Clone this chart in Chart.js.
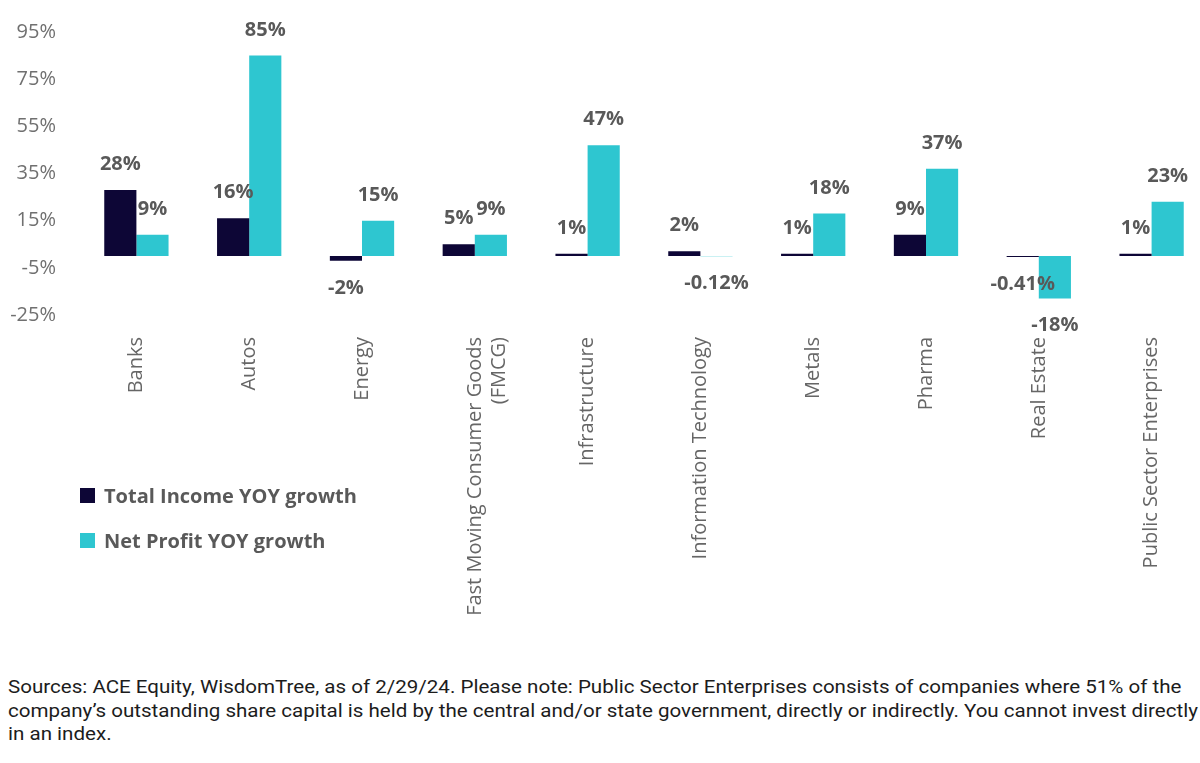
<!DOCTYPE html>
<html>
<head>
<meta charset="utf-8">
<script src="https://cdn.jsdelivr.net/npm/chart.js@4.4.1/dist/chart.umd.min.js"></script>
<style>
  html, body { margin: 0; padding: 0; background: #fff; overflow: hidden; }
  #wrap { position: relative; width: 1200px; height: 763px; overflow: hidden; background: #fff; }
  #chart { position: absolute; left: 0; top: 0; }
  #legend { position: absolute; left: 80px; top: 482px; font-family: "Open Sans", sans-serif; font-weight: 700; font-size: 20px; color: #595959; }
  #legend .item { display: flex; align-items: center; height: 26px; margin-bottom: 19px; }
  #legend .box { width: 15px; height: 15px; margin-right: 9px; }
  #note { position: absolute; left: 8px; top: 675px; font-family: Roboto, sans-serif; font-size: 19px; line-height: 23.5px; color: #1c1c1c; white-space: nowrap; transform-origin: 0 0; }
</style>
</head>
<body>
<div id="wrap">
  <canvas id="chart" width="1212" height="660"></canvas>
  <div id="legend"></div>
  <div id="note">Sources: ACE Equity, WisdomTree, as of 2/29/24. Please note: Public Sector Enterprises consists of companies where 51% of the<br>company’s outstanding share capital is held by the central and/or state government, directly or indirectly. You cannot invest directly<br>in an index.</div>
</div>
<script>
// sectors and YOY growth figures (%)
const sectors = ['Banks', 'Autos', 'Energy', ['Fast Moving Consumer Goods', '(FMCG)'], 'Infrastructure',
                 'Information Technology', 'Metals', 'Pharma', 'Real Estate', 'Public Sector Enterprises'];
const totalIncome = [28, 16, -2, 5, 1, 2, 1, 9, -0.41, 1];
const netProfit = [9, 85, 15, 9, 47, -0.12, 18, 37, -18, 23];
const yTicks = [-25, -5, 15, 35, 55, 75, 95];

const navy = '#0d0636';
const cyan = '#2ec6d0';

// value labels above / below each bar end
const valueLabels = {
    id: 'valueLabels',
    afterDatasetsDraw(chart) {
        const ctx = chart.ctx;
        ctx.save();
        ctx.font = '700 20px "Open Sans"';
        ctx.fillStyle = '#595959';
        ctx.textAlign = 'center';
        ctx.textBaseline = 'alphabetic';
        chart.data.datasets.forEach((ds, i) => {
            chart.getDatasetMeta(i).data.forEach((bar, j) => {
                const v = ds.data[j];
                const y = v >= 0 ? bar.y - 20 : bar.y + 33;
                ctx.fillText(v + '%', bar.x, y);
            });
        });
        ctx.restore();
    }
};

const chart = new Chart(document.getElementById('chart'), {
    type: 'bar',
    data: {
        labels: sectors,
        datasets: [
            { label: 'Total Income YOY growth', data: totalIncome, backgroundColor: navy },
            { label: 'Net Profit YOY growth', data: netProfit, backgroundColor: cyan }
        ]
    },
    options: {
        responsive: false,
        animation: false,
        devicePixelRatio: 1,
        layout: { padding: { top: 32, right: 4, bottom: 5, left: 0 } },
        datasets: { bar: { categoryPercentage: 0.57, barPercentage: 1 } },
        plugins: {
            legend: { display: false },
            tooltip: { enabled: false }
        },
        scales: {
            x: {
                grid: { display: false, drawTicks: false },
                border: { display: false },
                ticks: {
                    maxRotation: 90, minRotation: 90, autoSkip: false, padding: 22,
                    color: '#666666',
                    font: { family: 'Open Sans', size: 20 }
                },
                afterFit(scale) { scale.height = 340; }
            },
            y: {
                min: -25, max: 95,
                grid: { display: false, drawTicks: false },
                border: { display: false },
                ticks: {
                    padding: 24,
                    color: '#707070',
                    font: { family: 'Open Sans', size: 20 },
                    callback: v => v + '%'
                },
                afterBuildTicks(scale) { scale.ticks = yTicks.map(v => ({ value: v })); },
                afterFit(scale) {
                    scale.width = 80;
                    // tick padding should not push the plot area down
                    scale.paddingTop = 0;
                    scale.paddingBottom = 0;
                }
            }
        }
    },
    plugins: [valueLabels]
});

// legend built from the chart's datasets
const legend = document.getElementById('legend');
chart.data.datasets.forEach(ds => {
    const item = document.createElement('div');
    item.className = 'item';
    const box = document.createElement('span');
    box.className = 'box';
    box.style.background = ds.backgroundColor;
    const txt = document.createElement('span');
    txt.textContent = ds.label;
    item.appendChild(box);
    item.appendChild(txt);
    legend.appendChild(item);
});

// squeeze the footnote to the width of the original block
const note = document.getElementById('note');
const w = note.getBoundingClientRect().width;
note.style.transform = 'scaleX(' + (1190 / w) + ')';
</script>
</body>
</html>
